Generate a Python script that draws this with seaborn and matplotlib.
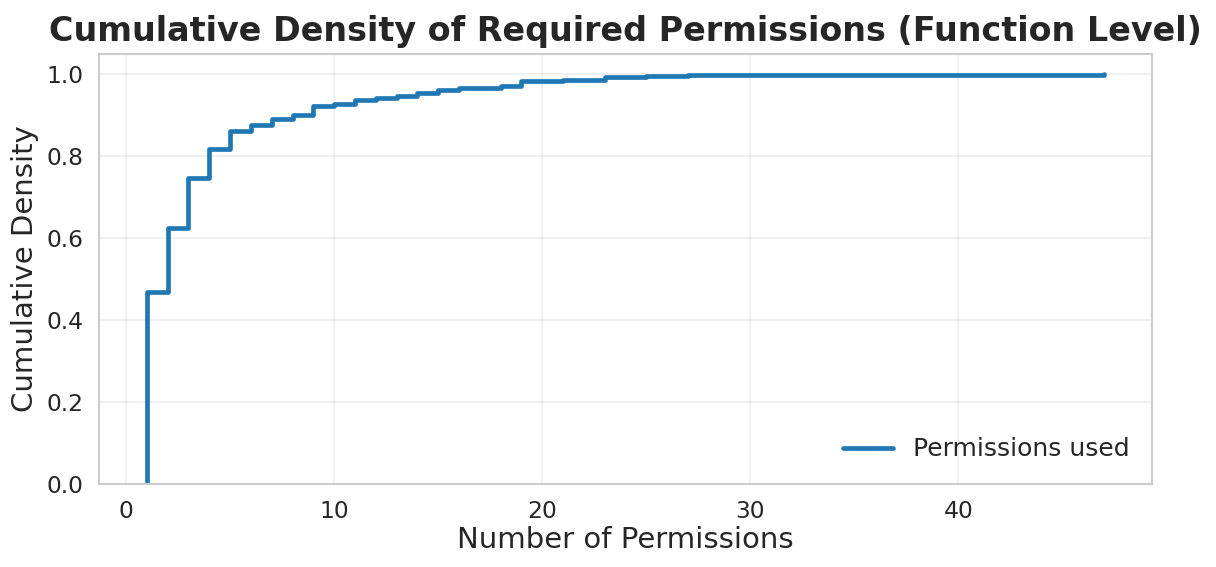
import numpy as np
import pandas as pd
import seaborn as sns
import matplotlib.pyplot as plt

# number of permissions required per function, and how many functions need that many
perm_counts = [1, 2, 3, 4, 5, 6, 7, 8, 9, 10, 11, 12, 13, 14, 15, 16, 17, 18, 19, 21, 23, 25, 27, 42, 47]
n_functions = [470, 155, 123, 69, 46, 13, 15, 9, 22, 6, 10, 5, 5, 6, 7, 6, 1, 3, 13, 2, 9, 2, 1, 1, 1]

df = pd.DataFrame({"perms": perm_counts, "n": n_functions})

sns.set_theme(style="whitegrid")
plt.rcParams["font.family"] = ["DejaVu Sans"]

fig, ax = plt.subplots(figsize=(1216 / 120, 567 / 120), dpi=120)
sns.ecdfplot(data=df, x="perms", weights="n", ax=ax, linewidth=2.8,
             color="#1f77b4", label="Permissions used")

ax.set_ylim(0, 1.05)
ax.grid(True, alpha=0.35)
ax.set_title("Cumulative Density of Required Permissions (Function Level)",
             fontsize=20, fontweight="bold", pad=8)
ax.set_xlabel("Number of Permissions", fontsize=17.5, labelpad=2)
ax.set_ylabel("Cumulative Density", fontsize=17.5)
ax.tick_params(labelsize=14)
ax.legend(loc="lower right", fontsize=15, frameon=False)

fig.subplots_adjust(left=0.0814, right=0.9474, top=0.9048, bottom=0.1464)
plt.savefig("out.png", dpi=120)
plt.close()
